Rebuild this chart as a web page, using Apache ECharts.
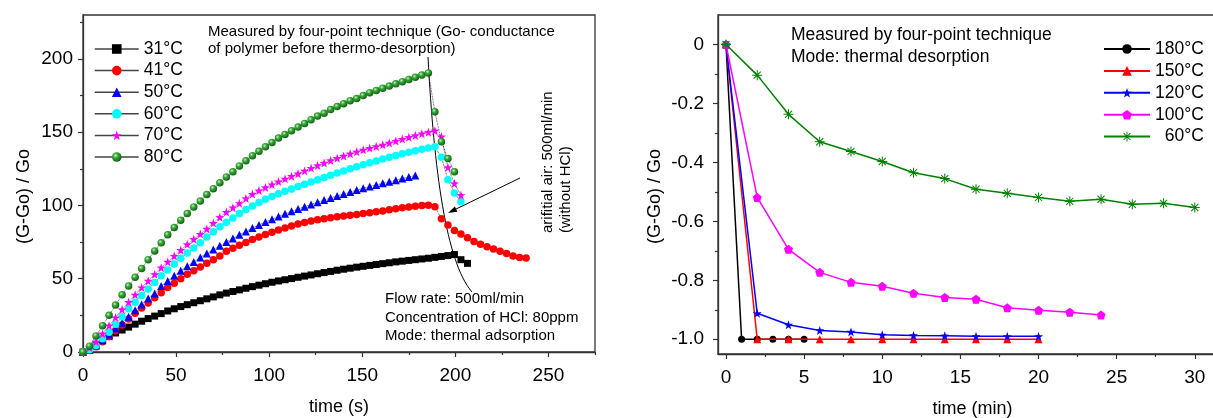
<!DOCTYPE html>
<html>
<head>
<meta charset="utf-8">
<script src="https://cdn.jsdelivr.net/npm/echarts@6/dist/echarts.min.js"></script>
<style>
html,body{margin:0;padding:0;background:#fff;}
#c{width:1213px;height:418px;}
</style>
</head>
<body>
<div id="c"></div>
<script>
// ---------- Left panel data (time in s, (G-Go)/Go) ----------
const timeS = [0,3.5,7,10.5,14,17.5,21,24.5,28,31.5,35,38.5,42,45.5,49,52.5,56,59.5,63,66.5,70,73.5,77,80.5,84,87.5,91,94.5,98,101.5,105,108.5,112,115.5,119,122.5,126,129.5,133,136.5,140,143.5,147,150.5,154,157.5,161,164.5,168,171.5,175,178.5,182,185.5,189,192.5,196,199.5,203,206.5,210,213.5,217,220.5,224,227.5,231,234.5,238];
const leftNames = ['31°C','41°C','50°C','60°C','70°C','80°C'];
const val31 = [0,2,5,8,10.5,13,15,17,19,21,22.8,24.5,26.2,28,29.5,31,32.3,33.6,35,36.3,37.6,39,40.2,41.3,42.4,43.5,44.6,45.6,46.6,47.6,48.5,49.3,50.1,51,51.8,52.6,53.4,54.2,55,55.8,56.5,57.2,57.9,58.5,59.1,59.7,60.3,60.9,61.5,62,62.5,63,63.5,64,64.6,65.2,65.8,66.5,63,60.5];
const val41 = [0,1,3.5,7,10.5,14.5,18.5,22.5,26.5,30,33.5,37,40.5,44,47,50,53,55.5,58,60.5,63,65.5,68.7,70.8,72.8,74.8,76.7,78.5,80.2,81.8,83.3,84.7,86,87.3,88.4,89.4,90.3,91,91.7,92.3,92.9,93.4,93.9,94.5,95.1,95.7,96.3,97,97.7,98.4,99,99.5,99.9,100.1,99.2,91,86.6,83,80.5,78,75.5,73.6,71.8,70.3,68.8,67.2,65.6,64.5,64.2];
const val50 = [0,1.5,4.5,8,12,16,20,24,28.5,32.5,36.5,40,45,48.5,52,55.5,58.5,61.5,64.5,67.3,70,72.5,75,77.5,80,82.3,84.6,86.7,88.7,90.6,92.5,94.3,96,97.6,99.2,100.7,102.2,103.7,105.1,106.5,107.9,109.2,110.5,111.7,112.9,114,115.1,116.2,117.3,118.4,119.5,120.5];
const val60 = [0,1.5,4.5,9,13.5,19,24,29.5,34,38.5,43,47.5,52,56,60,64,67.5,71,74.5,78.5,82,85.5,88.5,91.5,94.5,97.2,99.7,102,104.2,106.2,108,109.7,111.3,112.9,114.5,116,117.6,119.1,120.6,122.1,123.6,125,126.4,127.8,129.1,130.4,131.7,132.9,134.1,135.3,136.4,137.4,138.4,139.3,140,133,117.5,108.5,102.5];
const val70 = [0,3,7,12.5,18,23.5,29,34,39,44,48.5,53,57.5,61.5,65.5,69.5,73.5,77,80.5,84,88,92,95.5,98.5,101.5,104.8,107.8,110.2,112.3,114.3,116.3,118.2,120,121.7,123.6,125.5,127.3,129,130.7,132.3,133.8,135.3,136.7,138,139.2,140.3,141.4,142.7,144,145.3,146.6,147.8,149,150,151,147,126,115,107];
const val80 = [0,4,11,18,25,32,39,45,51,57,63,69,74.5,80,85,90,94.5,99,103,107.5,111.5,115.5,119.5,123,127,130.5,134,137,140,143,146,148.5,151,153.5,156,158.5,161,163,165.5,167.5,169.5,171.5,173,175,177,178.5,180,181.5,183,184.5,186,187.5,189,190.5,164,143.5,132,123];
const leftXTicks = [0,50,100,150,200,250];
const leftXMinor = [25,75,125,175,225,275];
const leftYTicks = [0,50,100,150,200];
const leftYMinor = [25,75,125,175,225];

// ---------- Right panel data (time in min, (G-Go)/Go) ----------
// (the 60°C entry is padded so it is distinct from the left panel's 60°C and sits right-aligned)
const rightNames = ['180°C','150°C','120°C','100°C','  60°C'];
const t180 = [0,1,2,3,4,5];
const v180 = [0,-1,-1,-1,-1,-1];
const tMin = [0,2,4,6,8,10,12,14,16,18,20,22,24,26,28,30];
const v150 = [0,-1,-1,-1,-1,-1,-1,-1,-1,-1,-1];
const v120 = [0,-0.912,-0.951,-0.970,-0.975,-0.985,-0.987,-0.988,-0.990,-0.990,-0.990];
const v100 = [0,-0.519,-0.695,-0.773,-0.807,-0.820,-0.844,-0.858,-0.864,-0.893,-0.902,-0.908,-0.918];
const v60 = [0,-0.104,-0.237,-0.330,-0.363,-0.397,-0.435,-0.455,-0.491,-0.505,-0.519,-0.532,-0.525,-0.542,-0.539,-0.553];
const rightXTicks = [0,5,10,15,20,25,30];
const rightXMinor = [2.5,7.5,12.5,17.5,22.5,27.5];
const rightYTicks = [-1.0,-0.8,-0.6,-0.4,-0.2,0];
const rightYLabels = ['-1.0','-0.8','-0.6','-0.4','-0.2','0'];
const rightYMinor = [-0.9,-0.7,-0.5,-0.3,-0.1];

// ---------- helpers ----------
const pair = (xs, ys) => ys.map((v, i) => [xs[i], v]);
const FONT = 'Liberation Sans, Arial, sans-serif';
const AX = '#333';
const STAR = 'path://M0,-10 L2.35,-3.24 L9.51,-3.09 L3.8,1.24 L5.88,8.09 L0,4 L-5.88,8.09 L-3.8,1.24 L-9.51,-3.09 L-2.35,-3.24 Z';
const PENTA = 'path://M0,-10 L9.5,-3.1 L5.9,8.1 L-5.9,8.1 L-9.5,-3.1 Z';
const ASTER = 'path://M-1,-10 L1,-10 L1,10 L-1,10 Z M-10,-1 L10,-1 L10,1 L-10,1 Z M-6.36,-7.78 L7.78,6.36 L6.36,7.78 L-7.78,-6.36 Z M-6.36,7.78 L-7.78,6.36 L6.36,-7.78 L7.78,-6.36 Z M-2.2,-2.2 L2.2,-2.2 L2.2,2.2 L-2.2,2.2 Z';
const greenBall = {type:'radial', x:0.38, y:0.35, r:0.7, colorStops:[{offset:0,color:'#c8f5c8'},{offset:0.35,color:'#3ba83b'},{offset:1,color:'#0a5a0a'}]};
const LBL = 19;

function mainAxis(grid, o) {
  return Object.assign({
    gridIndex: grid, type: 'value', splitLine: {show:false},
    axisLine: {show:true, onZero:false, lineStyle:{color:AX, width:1.3}},
    nameTextStyle: {fontSize:18, fontFamily:FONT, color:'#000'},
    nameLocation: 'middle'
  }, o);
}
function minorAxis(grid, o) {
  return Object.assign({
    gridIndex: grid, type: 'value', splitLine: {show:false},
    axisLine: {show:false, onZero:false},
    axisLabel: {show:false},
  }, o);
}
const tick = (vals, len) => ({show:true, inside:false, length:len, customValues:vals, lineStyle:{color:AX, width:1.2}});
const label = (vals, margin, extra) => Object.assign({show:true, customValues:vals, fontSize:LBL, fontFamily:FONT, color:'#000', margin:margin}, extra || {});

const leftColors = ['#000000','#ff0000','#0000ff','#00ffff','#ff00ff','#1a8a1a'];
const leftSymbols = ['rect','circle','triangle','circle',STAR,'circle'];
const leftSizes = [7,7.5,8,7.5,9,7.5];
const leftVals = [val31,val41,val50,val60,val70,val80];

const leftSeries = leftNames.map((n, i) => ({
  name: n, type: 'line', xAxisIndex: 0, yAxisIndex: 0,
  data: pair(timeS, leftVals[i]),
  symbol: leftSymbols[i], symbolSize: leftSizes[i], showAllSymbol: true,
  itemStyle: {color: i === 5 ? greenBall : leftColors[i], borderWidth: 0},
  lineStyle: {color:'#222', width:0.8, type:'dotted'},
  z: 3 + i, animation: false, silent: true
}));

const rightColors = ['#000000','#ff0000','#0000ff','#ff00ff','#008000'];
const rightSymbols = ['circle','triangle',STAR,PENTA,ASTER];
const rightSizes = [7,8,9,9,10];
const rightData = [pair(t180,v180), pair(tMin,v150), pair(tMin,v120), pair(tMin,v100), pair(tMin,v60)];
const rightSeries = rightNames.map((n, i) => ({
  name: n, type: 'line', xAxisIndex: 2, yAxisIndex: 2,
  data: rightData[i],
  symbol: rightSymbols[i], symbolSize: rightSizes[i], showAllSymbol: true,
  itemStyle: {color: rightColors[i]},
  lineStyle: {color: rightColors[i], width: 1.5},
  z: 3 + i, animation: false, silent: true
}));

const chart = echarts.init(document.getElementById('c'), null, {renderer:'canvas'});
chart.setOption({
  animation: false,
  backgroundColor: '#fff',
  textStyle: {fontFamily: FONT},
  grid: [
    {left:83, top:15, width:512, height:337, outerBoundsMode:'none', containLabel:false, show:true, borderColor:AX, borderWidth:1.3, backgroundColor:'transparent'},
    {left:718, top:15, width:509, height:339, outerBoundsMode:'none', containLabel:false, show:true, borderColor:AX, borderWidth:1.3, backgroundColor:'transparent'}
  ],
  xAxis: [
    mainAxis(0, {min:0, max:275, position:'bottom', name:'time (s)', nameGap:46,
      axisTick: tick(leftXTicks, 5), axisLabel: label(leftXTicks, 14)}),
    minorAxis(0, {min:0, max:275, position:'bottom', axisTick: tick(leftXMinor, 3)}),
    mainAxis(1, {min:-0.51, max:32.06, position:'bottom', name:'time (min)', nameGap:46,
      axisTick: tick(rightXTicks, 5), axisLabel: label(rightXTicks, 14)}),
    minorAxis(1, {min:-0.51, max:32.06, position:'bottom', axisTick: tick(rightXMinor, 3)})
  ],
  yAxis: [
    mainAxis(0, {min:0, max:230, position:'left', name:'(G-Go) / Go', nameGap:50, nameRotate:90,
      nameTextStyle:{fontSize:18, fontFamily:FONT, color:'#000', padding:[0,26,0,0]},
      axisTick: tick(leftYTicks, 5), axisLabel: label(leftYTicks, 10)}),
    minorAxis(0, {min:0, max:230, position:'left', axisTick: tick(leftYMinor, 3)}),
    mainAxis(1, {min:-1.05, max:0.1, position:'left', name:'(G-Go) / Go', nameGap:54, nameRotate:90,
      nameTextStyle:{fontSize:18, fontFamily:FONT, color:'#000', padding:[0,24,0,0]},
      axisTick: tick(rightYTicks, 5),
      axisLabel: label(rightYTicks, 14, {formatter: v => rightYLabels[rightYTicks.findIndex(t => Math.abs(t - v) < 1e-6)]})}),
    minorAxis(1, {min:-1.05, max:0.1, position:'left', axisTick: tick(rightYMinor, 3)})
  ],
  legend: [
    {data: leftNames, orient:'vertical', left:94, top:40, padding:0, itemWidth:44, itemHeight:12, itemGap:3.6,
      textStyle:{fontSize:17.5, fontFamily:FONT, color:'#000', lineHeight:17},
      lineStyle:{color:'#444', width:1.5, type:'solid'}, selectedMode:false},
    {data: rightNames, orient:'vertical', left:1103, top:40, padding:0, itemWidth:46, itemHeight:12, itemGap:3.9,
      textStyle:{fontSize:17.5, fontFamily:FONT, color:'#000', lineHeight:17}, selectedMode:false}
  ],
  graphic: [
    {type:'text', x:208, y:23, silent:true, style:{text:'Measured by four-point technique (Go- conductance\nof polymer before thermo-desorption)', fontSize:15, fontFamily:FONT, fill:'#000', lineHeight:17, align:'left', verticalAlign:'top'}},
    {type:'text', x:385, y:290, silent:true, style:{text:'Flow rate: 500ml/min\nConcentration of HCl: 80ppm\nMode: thermal adsorption', fontSize:15, fontFamily:FONT, fill:'#000', lineHeight:18.5, align:'left', verticalAlign:'top'}},
    {type:'text', x:539, y:233, rotation:Math.PI/2, silent:true, style:{text:'arifitial air: 500ml/min\n(without HCl)', fontSize:15, fontFamily:FONT, fill:'#000', lineHeight:18, align:'left', verticalAlign:'top'}},
    {type:'bezierCurve', silent:true, shape:{x1:428, y1:57, cpx1:434, cpy1:170, cpx2:446, cpy2:262, x2:472, y2:292}, style:{stroke:'#000', lineWidth:1, fill:null}},
    {type:'line', silent:true, shape:{x1:520, y1:178, x2:454, y2:210}, style:{stroke:'#000', lineWidth:1}},
    {type:'polygon', silent:true, shape:{points:[[448,213],[457.4,211.8],[454.8,206.4]]}, style:{fill:'#000'}},
    {type:'text', x:791, y:24, silent:true, style:{text:'Measured by four-point technique\nMode: thermal desorption', fontSize:17.5, fontFamily:FONT, fill:'#000', lineHeight:22, align:'left', verticalAlign:'top'}}
  ],
  series: leftSeries.concat(rightSeries)
});
</script>
</body>
</html>
